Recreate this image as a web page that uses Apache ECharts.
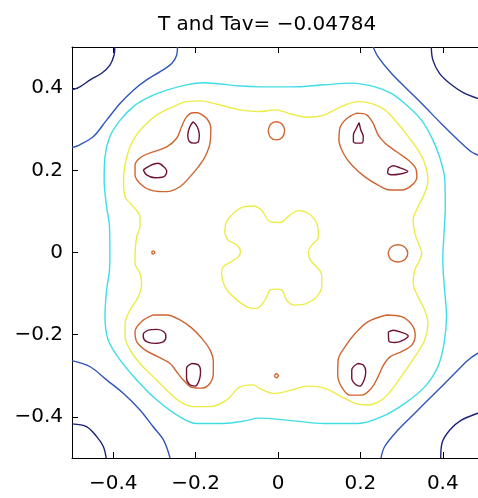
<!DOCTYPE html>
<html>
<head>
<meta charset="utf-8">
<script src="https://cdn.jsdelivr.net/npm/echarts@6/dist/echarts.min.js"></script>
<style>html,body{margin:0;padding:0;background:#fff;}#c{width:478px;height:498px;}</style>
</head>
<body>
<div id="c"></div>
<script>
// ---- tick values ----
const xTickVals = [-0.4, -0.2, 0, 0.2, 0.4];
const yTickVals = [-0.4, -0.2, 0, 0.2, 0.4];
const titleText = 'T and Tav= \u22120.04784';

// ---- contour polylines (x, y) ----
// navy level (corners)
const navyTL = [[-0.396,0.5],[-0.398,0.480],[-0.408,0.456],[-0.428,0.436],[-0.456,0.420],[-0.481,0.403],[-0.5,0.396]];
const navyTR = [[0.372,0.5],[0.376,0.468],[0.392,0.436],[0.421,0.408],[0.453,0.387],[0.485,0.375],[0.5,0.369]];
const navyBL = [[-0.5,-0.417],[-0.464,-0.424],[-0.440,-0.448],[-0.424,-0.472],[-0.417,-0.5]];
const navyBR = [[0.395,-0.5],[0.398,-0.464],[0.417,-0.432],[0.445,-0.408],[0.485,-0.391],[0.5,-0.386]];
// blue level
const blueTL = [[-0.244,0.5],[-0.246,0.480],[-0.258,0.460],[-0.286,0.440],[-0.319,0.420],[-0.351,0.395],[-0.383,0.363],[-0.416,0.322],[-0.448,0.282],[-0.481,0.262],[-0.5,0.255]];
const blueTR = [[0.231,0.5],[0.243,0.476],[0.275,0.436],[0.316,0.395],[0.356,0.355],[0.396,0.314],[0.437,0.274],[0.469,0.245],[0.485,0.237],[0.5,0.229]];
const blueBL = [[-0.5,-0.263],[-0.456,-0.278],[-0.416,-0.310],[-0.375,-0.343],[-0.335,-0.383],[-0.303,-0.424],[-0.278,-0.456],[-0.262,-0.5]];
const blueBR = [[0.25,-0.5],[0.259,-0.472],[0.291,-0.432],[0.332,-0.391],[0.380,-0.343],[0.429,-0.294],[0.461,-0.262],[0.485,-0.245],[0.5,-0.238]];
// cyan level
const cyanRing = [[-0.408,-0.002],[-0.409,0.063],[-0.416,0.111],[-0.422,0.176],[-0.420,0.233],[-0.408,0.282],[-0.383,0.322],[-0.351,0.355],[-0.311,0.379],[-0.270,0.395],[-0.222,0.408],[-0.181,0.413],[-0.141,0.410],[-0.092,0.405],[-0.044,0.403],
  [0.032,0.403],[0.113,0.408],[0.178,0.412],[0.235,0.403],[0.275,0.387],[0.316,0.355],[0.348,0.322],[0.372,0.282],[0.392,0.233],[0.405,0.176],[0.406,0.111],[0.403,0.047],[0.400,-0.018],
  [0.403,-0.075],[0.409,-0.156],[0.403,-0.221],[0.388,-0.278],[0.356,-0.327],[0.308,-0.367],[0.251,-0.400],[0.194,-0.416],[0.113,-0.416],[0.032,-0.409],[-0.049,-0.403],
  [-0.076,-0.409],[-0.133,-0.416],[-0.197,-0.416],[-0.238,-0.400],[-0.294,-0.359],[-0.343,-0.310],[-0.383,-0.262],[-0.412,-0.213],[-0.420,-0.156],[-0.416,-0.091],[-0.409,-0.043],[-0.408,-0.002]];
// yellow level
const yellowRing = [[-0.347,-0.002],[-0.343,0.038],[-0.335,0.063],[-0.335,0.087],[-0.351,0.111],[-0.371,0.136],[-0.375,0.176],[-0.367,0.233],[-0.351,0.274],[-0.327,0.306],[-0.294,0.335],[-0.254,0.355],[-0.222,0.367],[-0.189,0.369],[-0.141,0.359],[-0.092,0.347],[-0.044,0.343],
  [-0.008,0.347],[0.032,0.337],[0.073,0.329],[0.113,0.335],[0.154,0.355],[0.194,0.367],[0.226,0.363],[0.259,0.347],[0.291,0.314],[0.316,0.282],[0.340,0.249],[0.356,0.217],[0.364,0.176],[0.356,0.144],[0.340,0.111],[0.328,0.079],[0.332,0.047],[0.344,0.014],
  [0.349,-0.002],[0.344,-0.018],[0.332,-0.043],[0.328,-0.075],[0.340,-0.108],[0.356,-0.140],[0.364,-0.172],[0.356,-0.213],[0.332,-0.254],[0.299,-0.302],[0.275,-0.335],[0.251,-0.359],[0.218,-0.371],[0.194,-0.369],[0.154,-0.351],[0.113,-0.330],[0.073,-0.325],[0.032,-0.335],[-0.008,-0.343],[-0.046,-0.330],
  [-0.060,-0.322],[-0.092,-0.327],[-0.125,-0.359],[-0.165,-0.375],[-0.206,-0.375],[-0.238,-0.363],[-0.270,-0.335],[-0.303,-0.302],[-0.335,-0.270],[-0.359,-0.237],[-0.371,-0.205],[-0.371,-0.172],[-0.359,-0.140],[-0.339,-0.108],[-0.331,-0.075],[-0.335,-0.051],[-0.347,-0.026],[-0.347,-0.002]];
const yellowCenter = [[-0.129,0.047],[-0.125,0.075],[-0.104,0.099],[-0.084,0.111],[-0.060,0.113],[-0.040,0.103],[-0.019,0.075],[0.005,0.073],[0.029,0.091],[0.049,0.102],[0.074,0.095],[0.094,0.071],[0.098,0.038],[0.082,0.018],[0.074,0.002],[0.078,-0.018],[0.094,-0.035],[0.106,-0.055],[0.106,-0.083],[0.094,-0.108],[0.070,-0.124],[0.041,-0.128],[0.021,-0.116],[0.009,-0.091],[-0.007,-0.089],[-0.019,-0.091],[-0.032,-0.116],[-0.052,-0.136],[-0.076,-0.132],[-0.108,-0.108],[-0.129,-0.083],[-0.137,-0.051],[-0.133,-0.035],[-0.112,-0.022],[-0.096,-0.010],[-0.091,0.002],[-0.100,0.018],[-0.121,0.030],[-0.129,0.047]];
// orange level
const orangeTL = [[-0.193,0.340],[-0.173,0.326],[-0.163,0.302],[-0.165,0.266],[-0.177,0.233],[-0.193,0.209],[-0.214,0.184],[-0.238,0.160],[-0.270,0.148],[-0.303,0.150],[-0.331,0.164],[-0.347,0.189],[-0.347,0.213],[-0.331,0.233],[-0.303,0.245],[-0.270,0.257],[-0.246,0.278],[-0.234,0.306],[-0.222,0.330],[-0.206,0.340],[-0.193,0.340]];
const orangeTR = [[0.191,0.339],[0.215,0.335],[0.231,0.314],[0.243,0.286],[0.260,0.266],[0.288,0.245],[0.316,0.225],[0.334,0.205],[0.337,0.184],[0.325,0.164],[0.300,0.152],[0.272,0.152],[0.243,0.164],[0.211,0.184],[0.179,0.213],[0.159,0.241],[0.148,0.274],[0.150,0.302],[0.167,0.326],[0.191,0.339]];
const orangeBL = [[-0.303,-0.152],[-0.270,-0.152],[-0.238,-0.164],[-0.209,-0.184],[-0.185,-0.209],[-0.165,-0.237],[-0.157,-0.266],[-0.157,-0.294],[-0.165,-0.318],[-0.185,-0.330],[-0.209,-0.328],[-0.230,-0.310],[-0.246,-0.290],[-0.262,-0.270],[-0.291,-0.254],[-0.323,-0.237],[-0.343,-0.217],[-0.347,-0.193],[-0.331,-0.168],[-0.303,-0.152]];
const orangeBR = [[0.264,-0.152],[0.300,-0.156],[0.325,-0.176],[0.333,-0.201],[0.325,-0.225],[0.300,-0.241],[0.272,-0.254],[0.256,-0.274],[0.243,-0.302],[0.227,-0.330],[0.203,-0.347],[0.175,-0.347],[0.155,-0.328],[0.145,-0.298],[0.146,-0.262],[0.163,-0.229],[0.187,-0.197],[0.219,-0.168],[0.264,-0.152]];
const orangeTop = [[-0.024,0.296],[-0.018,0.312],[-0.004,0.318],[0.010,0.312],[0.016,0.296],[0.010,0.280],[-0.004,0.274],[-0.018,0.280],[-0.024,0.296]];
const orangeRight = [[0.267,-0.002],[0.274,0.013],[0.291,0.019],[0.308,0.013],[0.315,-0.002],[0.308,-0.017],[0.291,-0.023],[0.274,-0.017],[0.267,-0.002]];
const orangeLeftDot = [[-0.307,0],[-0.303,0.004],[-0.299,0],[-0.303,-0.004],[-0.307,0]];
const orangeBottomDot = [[-0.009,-0.300],[-0.004,-0.295],[0.001,-0.300],[-0.004,-0.305],[-0.009,-0.300]];
// maroon level
const maroonTL1 = [[-0.206,0.318],[-0.196,0.306],[-0.191,0.286],[-0.193,0.270],[-0.204,0.266],[-0.215,0.270],[-0.219,0.286],[-0.214,0.306],[-0.206,0.318]];
const maroonTL2 = [[-0.327,0.201],[-0.311,0.211],[-0.291,0.217],[-0.278,0.209],[-0.270,0.197],[-0.278,0.184],[-0.299,0.182],[-0.319,0.189],[-0.327,0.201]];
const maroonTR1 = [[0.197,0.316],[0.201,0.298],[0.207,0.282],[0.205,0.267],[0.193,0.266],[0.183,0.270],[0.183,0.286],[0.189,0.300],[0.197,0.316]];
const maroonTR2 = [[0.268,0.205],[0.280,0.211],[0.296,0.206],[0.315,0.197],[0.296,0.191],[0.277,0.189],[0.266,0.194],[0.268,0.205]];
const maroonBL1 = [[-0.327,-0.197],[-0.315,-0.189],[-0.294,-0.187],[-0.277,-0.193],[-0.272,-0.205],[-0.278,-0.217],[-0.299,-0.221],[-0.319,-0.217],[-0.327,-0.205],[-0.327,-0.197]];
const maroonBL2 = [[-0.209,-0.270],[-0.193,-0.274],[-0.188,-0.290],[-0.191,-0.310],[-0.201,-0.325],[-0.214,-0.322],[-0.222,-0.306],[-0.222,-0.282],[-0.209,-0.270]];
const maroonBR1 = [[0.268,-0.193],[0.280,-0.189],[0.296,-0.193],[0.316,-0.203],[0.300,-0.215],[0.284,-0.219],[0.269,-0.215],[0.268,-0.193]];
const maroonBR2 = [[0.193,-0.270],[0.207,-0.274],[0.213,-0.290],[0.209,-0.310],[0.199,-0.325],[0.189,-0.322],[0.179,-0.306],[0.179,-0.286],[0.193,-0.270]];

const levelColors = {
  navy: '#1c2378', blue: '#2f56b8', cyan: '#3fdde6', yellow: '#ecec48', orange: '#cf6531', maroon: '#6e1434'
};
const contours = [
  ['navy', navyTL], ['navy', navyTR], ['navy', navyBL], ['navy', navyBR],
  ['blue', blueTL], ['blue', blueTR], ['blue', blueBL], ['blue', blueBR],
  ['cyan', cyanRing],
  ['yellow', yellowRing], ['yellow', yellowCenter],
  ['orange', orangeTL], ['orange', orangeTR], ['orange', orangeBL], ['orange', orangeBR],
  ['orange', orangeTop], ['orange', orangeRight], ['orange', orangeLeftDot], ['orange', orangeBottomDot],
  ['maroon', maroonTL1], ['maroon', maroonTL2], ['maroon', maroonTR1], ['maroon', maroonTR2],
  ['maroon', maroonBL1], ['maroon', maroonBL2], ['maroon', maroonBR1], ['maroon', maroonBR2]
];

const fmt = v => (v < 0 ? '\u2212' : '') + String(Math.abs(Math.round(v * 10) / 10));
const FONT = 'DejaVu Sans';

const axisCommon = {
  type: 'value', min: -0.5, max: 0.5,
  axisLine: { show: true, onZero: false, lineStyle: { color: '#000', width: 1 } },
  splitLine: { show: false }
};

const chart = echarts.init(document.getElementById('c'), null, { renderer: 'canvas' });
chart.setOption({
  animation: false,
  backgroundColor: '#fff',
  title: {
    text: titleText, left: 153, top: 10,
    textStyle: { fontFamily: FONT, fontSize: 20, fontWeight: 'normal', color: '#000' }
  },
  grid: { left: 72, top: 47, width: 412, height: 411, containLabel: false, outerBoundsMode: 'none' },
  xAxis: [
    Object.assign({}, axisCommon, {
      position: 'bottom',
      axisTick: { show: true, inside: true, length: 6, customValues: xTickVals, lineStyle: { color: '#000' } },
      axisLabel: { show: true, customValues: xTickVals, formatter: fmt, fontFamily: FONT, fontSize: 20, color: '#000', margin: 16 }
    }),
    Object.assign({}, axisCommon, {
      position: 'top',
      axisTick: { show: true, inside: true, length: 6, customValues: xTickVals, lineStyle: { color: '#000' } },
      axisLabel: { show: false }
    })
  ],
  yAxis: [
    Object.assign({}, axisCommon, {
      position: 'left',
      axisTick: { show: true, inside: true, length: 6, customValues: yTickVals, lineStyle: { color: '#000' } },
      axisLabel: { show: true, customValues: yTickVals, formatter: fmt, fontFamily: FONT, fontSize: 20, color: '#000', margin: 9 }
    }),
    Object.assign({}, axisCommon, {
      position: 'right',
      axisTick: { show: true, inside: true, length: 6, customValues: yTickVals, lineStyle: { color: '#000' } },
      axisLabel: { show: false }
    })
  ],
  series: contours.map(([lvl, pts]) => ({
    type: 'line', xAxisIndex: 0, yAxisIndex: 0,
    data: pts, showSymbol: false, symbol: 'none', smooth: 0.35,
    lineStyle: { color: levelColors[lvl], width: 1.4 },
    silent: true, clip: true
  }))
});
</script>
</body>
</html>
